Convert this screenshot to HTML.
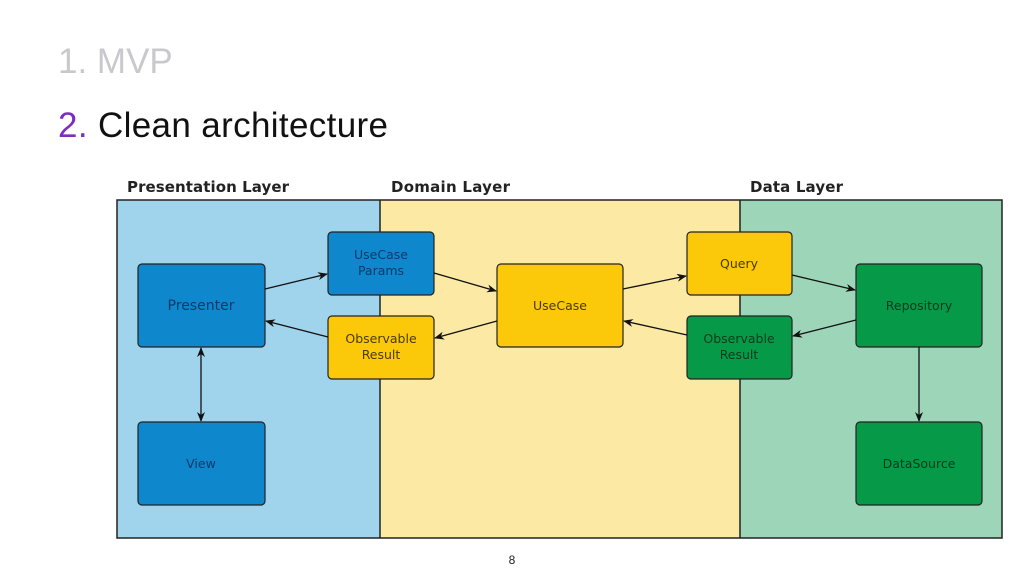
<!DOCTYPE html><html><head><style>body{margin:0;width:1024px;height:576px;background:#fff;overflow:hidden;font-family:"Liberation Sans",sans-serif}</style></head><body>
<svg width="1024" height="576" xmlns="http://www.w3.org/2000/svg" font-family="Liberation Sans, DejaVu Sans, sans-serif">
<defs><marker id="a" markerWidth="10" markerHeight="8" refX="9" refY="4" orient="auto" markerUnits="userSpaceOnUse"><path d="M0,0L10,4L0,8L3,4z" fill="#111"/></marker>
<marker id="b" markerWidth="10" markerHeight="8" refX="1" refY="4" orient="auto" markerUnits="userSpaceOnUse"><path d="M10,0L0,4L10,8L7,4z" fill="#111"/></marker></defs>
<text x="58" y="73" font-size="35" fill="#c9c9cd">1. MVP</text>
<text x="58" y="137" font-size="35" fill="#111" textLength="330"><tspan fill="#7b2fbe">2.</tspan> Clean architecture</text>
<g font-size="15" font-weight="bold" fill="#222" font-family="DejaVu Sans, sans-serif"><text x="127" y="192" textLength="162">Presentation Layer</text><text x="391" y="192" textLength="119">Domain Layer</text><text x="750" y="192" textLength="93">Data Layer</text></g>
<rect x="117" y="200" width="263" height="338" fill="#a0d4ec"/>
<rect x="380" y="200" width="360" height="338" fill="#fbe9a4"/>
<rect x="740" y="200" width="262" height="338" fill="#9dd5b8"/>
<rect x="117" y="200" width="885" height="338" fill="none" stroke="#222" stroke-width="1.5"/>
<line x1="380" y1="200" x2="380" y2="538" stroke="#222" stroke-width="1.5"/>
<line x1="740" y1="200" x2="740" y2="538" stroke="#222" stroke-width="1.5"/>
<g stroke="#222" stroke-width="1.2" font-size="12.5" text-anchor="middle" font-family="DejaVu Sans, sans-serif">
<rect x="138" y="264" width="127" height="83" rx="4" fill="#0f87cc"/>
<rect x="138" y="422" width="127" height="83" rx="4" fill="#0f87cc"/>
<rect x="328" y="232" width="106" height="63" rx="4" fill="#0f87cc"/>
<rect x="328" y="316" width="106" height="63" rx="4" fill="#fcc80a"/>
<rect x="497" y="264" width="126" height="83" rx="4" fill="#fcc80a"/>
<rect x="687" y="232" width="105" height="63" rx="4" fill="#fcc80a"/>
<rect x="687" y="316" width="105" height="63" rx="4" fill="#069a48"/>
<rect x="856" y="264" width="126" height="83" rx="4" fill="#069a48"/>
<rect x="856" y="422" width="126" height="83" rx="4" fill="#069a48"/>
<g stroke="none">
<text x="201" y="310" font-size="14" fill="#0a3a6a">Presenter</text>
<text x="201" y="468" fill="#0a3a6a">View</text>
<text x="381" y="259" fill="#0a3a6a">UseCase</text><text x="381" y="275" fill="#0a3a6a">Params</text>
<text x="381" y="343" fill="#4a3a00">Observable</text><text x="381" y="359" fill="#4a3a00">Result</text>
<text x="560" y="310" fill="#4a3a00">UseCase</text>
<text x="739" y="268" fill="#4a3a00">Query</text>
<text x="739" y="343" fill="#063a1c">Observable</text><text x="739" y="359" fill="#063a1c">Result</text>
<text x="919" y="310" fill="#063a1c">Repository</text>
<text x="919" y="468" fill="#063a1c">DataSource</text>
</g></g>
<g stroke="#111" stroke-width="1.3" fill="none">
<line x1="265" y1="289" x2="327" y2="274" marker-end="url(#a)"/>
<line x1="328" y1="337" x2="266" y2="321" marker-end="url(#a)"/>
<line x1="434" y1="273" x2="496" y2="291" marker-end="url(#a)"/>
<line x1="497" y1="321" x2="435" y2="338" marker-end="url(#a)"/>
<line x1="623" y1="289" x2="686" y2="276" marker-end="url(#a)"/>
<line x1="687" y1="335" x2="624" y2="321" marker-end="url(#a)"/>
<line x1="792" y1="275" x2="855" y2="290" marker-end="url(#a)"/>
<line x1="856" y1="320" x2="793" y2="336" marker-end="url(#a)"/>
<line x1="201" y1="348" x2="201" y2="421" marker-start="url(#b)" marker-end="url(#a)"/>
<line x1="919" y1="347" x2="919" y2="421" marker-end="url(#a)"/>
</g>
<text x="512" y="564" font-size="12" text-anchor="middle" fill="#222">8</text>
</svg></body></html>
